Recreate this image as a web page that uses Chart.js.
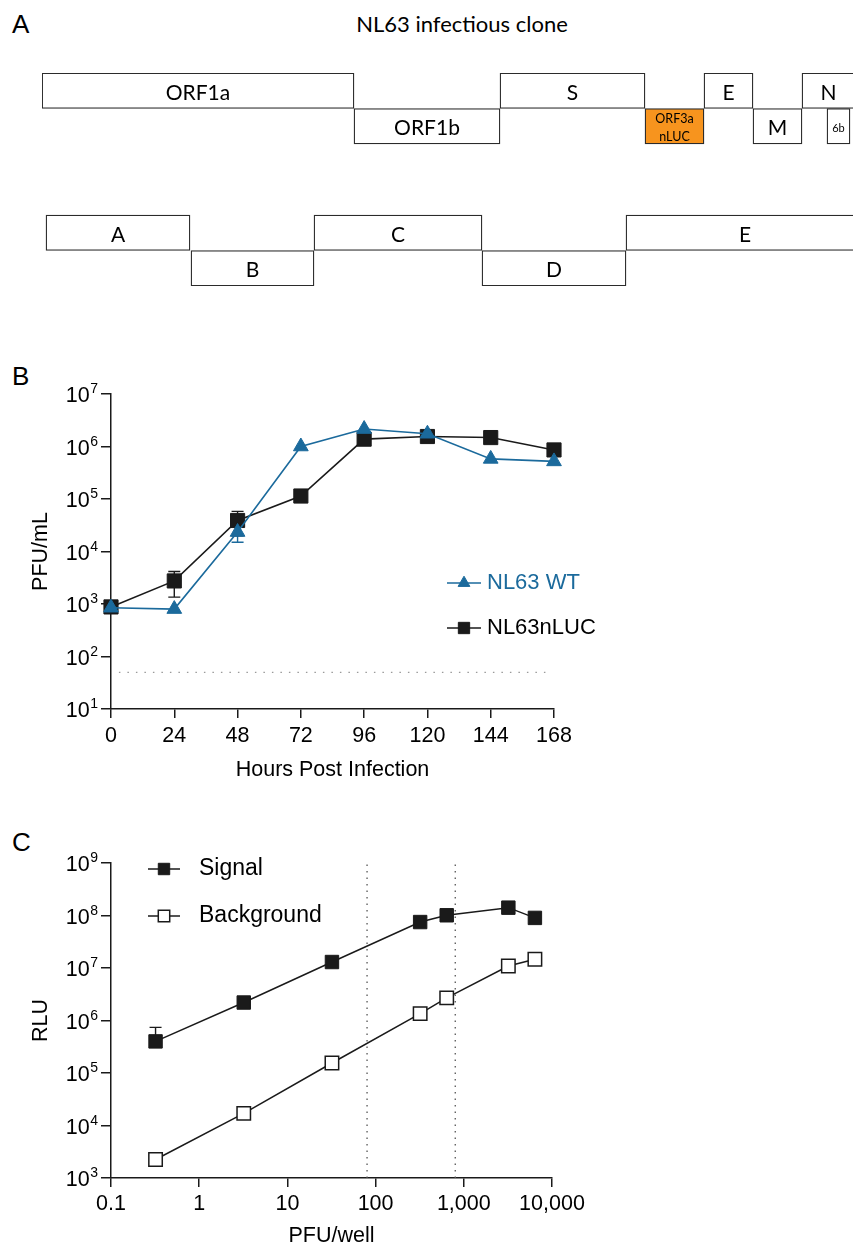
<!DOCTYPE html>
<html>
<head>
<meta charset="utf-8">
<script src="https://cdn.jsdelivr.net/npm/chart.js@4.4.1/dist/chart.umd.min.js"></script>
<style>
  body { margin: 0; background: #fff; }
  #fig { position: relative; width: 853px; height: 1249px; overflow: hidden; font-family: "Liberation Sans", Arial, sans-serif; }
  #fig canvas { position: absolute; left: 0; }
  .panel { position: absolute; left: 12px; font-size: 26px; line-height: 1; }
  #titleA { position: absolute; top: 13px; left: 462px; transform: translateX(-50%); white-space: nowrap;
            font-family: Lato, "Open Sans", sans-serif; font-size: 22px; line-height: 1; }
</style>
</head>
<body>
<div id="fig">
  <div class="panel" style="top:11px">A</div>
  <div id="titleA">NL63 infectious clone</div>
  <canvas id="chartA" width="853" height="300" style="top:0"></canvas>
  <div class="panel" style="top:363px">B</div>
  <canvas id="chartB" width="853" height="440" style="top:360px"></canvas>
  <div class="panel" style="top:829px">C</div>
  <canvas id="chartC" width="853" height="429" style="top:820px"></canvas>
</div>
<script>
// ---- Panel A: genome map (schematic units, not to scale) ----
var mapRows = ["top", "bottom", "gap1", "gap2", "fragTop", "fragBottom"];
var geneNames = ["ORF1a", "ORF1b", "S", "ORF3a\nnLUC", "E", "M", "N", "6b"];
var geneStart = [0, 312, 458, 603, 662, 711, 760, 785];
var geneEnd = [312, 458, 603, 662, 711, 760, 813, 808];
var geneRow = ["top", "bottom", "top", "bottom", "top", "bottom", "top", "bottom"];
var fragNames = ["A", "B", "C", "D", "E"];
var fragStart = [4, 149, 272, 440, 584];
var fragEnd = [148, 272, 440, 584, 822];
var fragRow = ["fragTop", "fragBottom", "fragTop", "fragBottom", "fragTop"];

// ---- Panel B: growth curve ----
var hours = [0, 24, 48, 72, 96, 120, 144, 168];
var wtPfu = [850, 800, 23500, 1000000, 2150000, 1750000, 580000, 520000];
var wtSd = [0, 0, 8500, 0, 0, 0, 0, 0];
var nlucPfu = [880, 2750, 39000, 114000, 1380000, 1550000, 1480000, 860000];
var nlucSd = [0, 1400, 19000, 0, 0, 0, 0, 0];
var detectionLimit = 50;
var hourTicks = [0, 24, 48, 72, 96, 120, 144, 168];
var pfuTicks = [10, 100, 1000, 10000, 100000, 1000000, 10000000];

// ---- Panel C: signal vs background ----
var pfuWell = [0.32, 3.2, 32, 320, 640, 3200, 6400];
var signalRlu = [400000, 2200000, 13000000, 75000000, 101000000, 141000000, 90000000];
var signalSd = [340000, 0, 0, 0, 0, 0, 0];
var backgroundRlu = [2250, 17000, 155000, 1350000, 2700000, 10900000, 14700000];
var cutoffs = [80, 800];
var pfuWellTicks = [0.1, 1, 10, 100, 1000, 10000];
var pfuWellLabels = ["0.1", "1", "10", "100", "1,000", "10,000"];
var rluTicks = [1e3, 1e4, 1e5, 1e6, 1e7, 1e8, 1e9];

var blue = "#1B6A9C";
var orange = "#F7941E";
var ink = "#1a1a1a";
var sans = '"Liberation Sans", Arial, sans-serif';
Chart.defaults.font.family = sans;
Chart.defaults.color = "#000";

// texto dentro de cada caja del mapa
var boxLabels = {
  id: "boxLabels",
  afterDatasetsDraw: function (chart) {
    var ctx = chart.ctx;
    ctx.save();
    ctx.fillStyle = "#000";
    ctx.textAlign = "center";
    ctx.textBaseline = "middle";
    chart.data.datasets.forEach(function (ds, d) {
      var meta = chart.getDatasetMeta(d);
      meta.data.forEach(function (bar, i) {
        var name = ds.names[i];
        var w = Math.abs(bar.x - bar.base);
        var cx = (bar.x + bar.base) / 2;
        var lines = name.split("\n");
        var size = lines.length > 1 ? 12.5 : (w < 40 ? 11 : 21);
        ctx.font = size + "px Lato, 'Open Sans', sans-serif";
        var lh = size * 1.45;
        lines.forEach(function (t, k) {
          ctx.fillText(t, cx, bar.y + 2 + (k - (lines.length - 1) / 2) * lh);
        });
      });
    });
    ctx.restore();
  }
};

// barras de error (SD) con la escala y
var errorBars = {
  id: "errorBars",
  beforeDatasetsDraw: function (chart) {
    var ctx = chart.ctx, ys = chart.scales.y;
    chart.data.datasets.forEach(function (ds, d) {
      if (!ds.errSd) return;
      var meta = chart.getDatasetMeta(d);
      ctx.save();
      ctx.strokeStyle = ds.borderColor;
      ctx.lineWidth = 1.4;
      ds.errSd.forEach(function (sd, i) {
        if (!sd) return;
        var pt = meta.data[i];
        var v = ds.data[i].y;
        var ends = [v + sd];
        if (!ds.errUpperOnly) ends.push(v - sd);
        ends.forEach(function (e) {
          var py = ys.getPixelForValue(e);
          ctx.beginPath();
          ctx.moveTo(pt.x, pt.y);
          ctx.lineTo(pt.x, py);
          ctx.moveTo(pt.x - 6, py);
          ctx.lineTo(pt.x + 6, py);
          ctx.stroke();
        });
      });
      ctx.restore();
    });
  }
};

// etiquetas 10^n del eje y
var powerLabels = {
  id: "powerLabels",
  afterDraw: function (chart) {
    var s = chart.scales.y, ctx = chart.ctx;
    ctx.save();
    ctx.fillStyle = "#000";
    ctx.textBaseline = "alphabetic";
    s.ticks.forEach(function (t) {
      var y = s.getPixelForValue(t.value);
      var exp = String(Math.round(Math.log10(t.value)));
      var right = s.right - 13;
      ctx.font = "14px " + sans;
      var ew = ctx.measureText(exp).width;
      ctx.textAlign = "left";
      ctx.fillText(exp, right - ew, y - 1);
      ctx.font = "21.5px " + sans;
      ctx.textAlign = "right";
      ctx.fillText("10", right - ew - 0.5, y + 8);
    });
    ctx.restore();
  }
};

// leyenda dentro del grafico
var insideLegend = {
  id: "insideLegend",
  afterDraw: function (chart, args, opts) {
    var ctx = chart.ctx;
    var k = 0;
    chart.data.datasets.forEach(function (ds) {
      if (ds.inLegend === false) return;
      var y = opts.y + k * opts.gap;
      k++;
      ctx.save();
      ctx.strokeStyle = ds.borderColor;
      ctx.lineWidth = ds.borderWidth;
      ctx.beginPath();
      ctx.moveTo(opts.x, y);
      ctx.lineTo(opts.x + opts.lineLen, y);
      ctx.stroke();
      ctx.fillStyle = ds.backgroundColor;
      ctx.strokeStyle = ds.borderColor;
      ctx.lineWidth = ds.pointBorderWidth;
      Chart.helpers.drawPoint(ctx, {
        pointStyle: ds.pointStyle, rotation: 0,
        radius: ds.pointRadius * opts.markerScale, borderWidth: ds.pointBorderWidth
      }, opts.x + opts.lineLen / 2, y);
      ctx.fillStyle = ds.labelColor || "#000";
      ctx.font = opts.size + "px " + sans;
      ctx.textAlign = "left";
      ctx.textBaseline = "middle";
      ctx.fillText(ds.label, opts.x + opts.lineLen + opts.textGap, y);
      ctx.restore();
    });
  }
};

function logAxis(ticks, title, titlePad) {
  return {
    type: "logarithmic",
    min: ticks[0], max: ticks[ticks.length - 1],
    afterBuildTicks: function (s) { s.ticks = ticks.map(function (v) { return { value: v }; }); },
    afterFit: function (s) { s.width = 111; },
    ticks: { display: false },
    grid: { drawOnChartArea: false, drawTicks: true, tickLength: 10, color: ink, lineWidth: 1.5 },
    border: { display: true, color: ink, width: 1.5 },
    title: { display: true, text: title, font: { size: 21.5 }, color: "#000", padding: { top: titlePad, bottom: 0 } }
  };
}

// ---------- A ----------
new Chart(document.getElementById("chartA"), {
  type: "bar",
  data: {
    labels: mapRows,
    datasets: [{
      label: "genes",
      names: geneNames,
      data: geneNames.map(function (n, i) { return { x: [geneStart[i], geneEnd[i]], y: geneRow[i] }; }),
      backgroundColor: geneNames.map(function (n) { return n.indexOf("nLUC") >= 0 ? orange : "#fff"; }),
      borderColor: "#2b2b2b", borderWidth: 1.3, borderSkipped: false,
      grouped: false, barPercentage: 1, categoryPercentage: 1
    }, {
      label: "fragments",
      names: fragNames,
      data: fragNames.map(function (n, i) { return { x: [fragStart[i], fragEnd[i]], y: fragRow[i] }; }),
      backgroundColor: "#fff",
      borderColor: "#2b2b2b", borderWidth: 1.3, borderSkipped: false,
      grouped: false, barPercentage: 1, categoryPercentage: 1
    }]
  },
  options: {
    indexAxis: "y", responsive: false, animation: false,
    layout: { padding: { left: 42, right: 0, top: 73, bottom: 14 } },
    scales: {
      x: { type: "linear", min: 0, max: 811, display: false },
      y: { display: false }
    },
    plugins: { legend: { display: false }, tooltip: { enabled: false } }
  },
  plugins: [boxLabels]
});

// ---------- B ----------
new Chart(document.getElementById("chartB"), {
  type: "scatter",
  data: {
    datasets: [{
      label: "NL63 WT", labelColor: blue,
      data: hours.map(function (h, i) { return { x: h, y: wtPfu[i] }; }),
      errSd: wtSd,
      showLine: true, borderColor: blue, backgroundColor: blue, borderWidth: 1.6,
      pointStyle: "triangle", pointRadius: 8.5, pointBorderWidth: 1, order: 0, clip: false
    }, {
      label: "NL63nLUC",
      data: hours.map(function (h, i) { return { x: h, y: nlucPfu[i] }; }),
      errSd: nlucSd,
      showLine: true, borderColor: ink, backgroundColor: ink, borderWidth: 1.6,
      pointStyle: "rect", pointRadius: 10, pointBorderWidth: 1, order: 1, clip: false
    }, {
      label: "limit", inLegend: false,
      data: [{ x: 3, y: detectionLimit }, { x: 166, y: detectionLimit }],
      showLine: true, borderColor: "#9a9a9a", borderDash: [1.5, 7], borderWidth: 1.3,
      pointRadius: 0, order: 2
    }]
  },
  options: {
    responsive: false, animation: false,
    layout: { padding: { left: 0, right: 299, top: 34, bottom: 0 } },
    scales: {
      x: {
        type: "linear", min: 0, max: 168,
        afterBuildTicks: function (s) { s.ticks = hourTicks.map(function (v) { return { value: v }; }); },
        afterFit: function (s) { s.height = 91; },
        ticks: { font: { size: 21.5 }, color: "#000", padding: 5, maxRotation: 0, autoSkip: false },
        grid: { drawOnChartArea: false, drawTicks: true, tickLength: 9, color: ink, lineWidth: 1.5 },
        border: { display: true, color: ink, width: 1.5 },
        title: { display: true, text: "Hours Post Infection", font: { size: 21.5 }, color: "#000", padding: { top: 0, bottom: 17 } }
      },
      y: logAxis(pfuTicks, "PFU/mL", 28)
    },
    plugins: {
      legend: { display: false }, tooltip: { enabled: false },
      insideLegend: { x: 447, y: 223, gap: 45, lineLen: 34, textGap: 6, size: 22, markerScale: 0.8 }
    }
  },
  plugins: [errorBars, powerLabels, insideLegend]
});

// ---------- C ----------
var cutoffSets = cutoffs.map(function (c) {
  return {
    label: "cutoff", inLegend: false,
    data: [{ x: c, y: rluTicks[0] }, { x: c, y: rluTicks[rluTicks.length - 1] }],
    showLine: true, borderColor: "#555", borderDash: [1.5, 5], borderWidth: 1.3, pointRadius: 0, order: 3
  };
});
new Chart(document.getElementById("chartC"), {
  type: "scatter",
  data: {
    datasets: [{
      label: "Signal",
      data: pfuWell.map(function (p, i) { return { x: p, y: signalRlu[i] }; }),
      errSd: signalSd, errUpperOnly: true,
      showLine: true, borderColor: ink, backgroundColor: ink, borderWidth: 1.5,
      pointStyle: "rect", pointRadius: 9.5, pointBorderWidth: 1, order: 0, clip: false
    }, {
      label: "Background",
      data: pfuWell.map(function (p, i) { return { x: p, y: backgroundRlu[i] }; }),
      showLine: true, borderColor: ink, backgroundColor: "#fff", borderWidth: 1.5,
      pointStyle: "rect", pointRadius: 9.5, pointBorderWidth: 1.5, order: 1, clip: false
    }].concat(cutoffSets)
  },
  options: {
    responsive: false, animation: false,
    layout: { padding: { left: 0, right: 301, top: 43, bottom: 0 } },
    scales: {
      x: {
        type: "logarithmic", min: 0.1, max: 10000,
        afterBuildTicks: function (s) { s.ticks = pfuWellTicks.map(function (v) { return { value: v }; }); },
        afterFit: function (s) { s.height = 71; },
        ticks: {
          font: { size: 21.5 }, color: "#000", padding: 4, maxRotation: 0, autoSkip: false,
          callback: function (v, i) { return pfuWellLabels[i]; }
        },
        grid: { drawOnChartArea: false, drawTicks: true, tickLength: 9, color: ink, lineWidth: 1.5 },
        border: { display: true, color: ink, width: 1.5 },
        title: { display: true, text: "PFU/well", font: { size: 21.5 }, color: "#000", padding: { top: 0, bottom: 0 } }
      },
      y: logAxis(rluTicks, "RLU", 28)
    },
    plugins: {
      legend: { display: false }, tooltip: { enabled: false },
      insideLegend: { x: 148, y: 49, gap: 47, lineLen: 32, textGap: 19, size: 23, markerScale: 0.85 }
    }
  },
  plugins: [errorBars, powerLabels, insideLegend]
});
</script>
</body>
</html>
